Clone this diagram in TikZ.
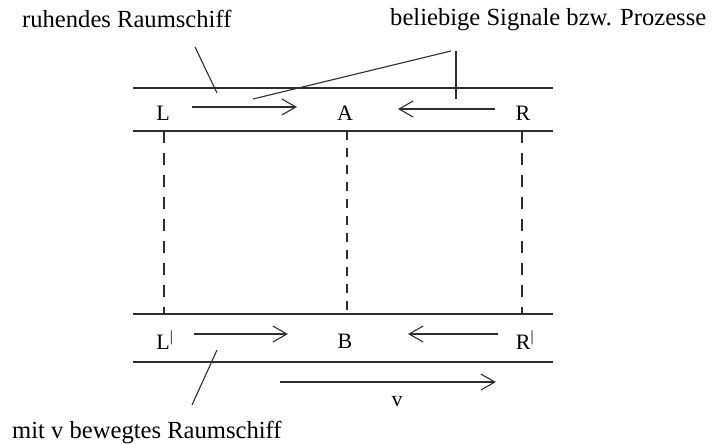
\documentclass[tikz,border=0pt]{standalone}
\usepackage{fontspec}
\setmainfont{Liberation Serif}
\usetikzlibrary{arrows.meta}
\definecolor{ink}{HTML}{2E2E2E}
\tikzset{
  rail/.style={draw=ink, line width=1.4pt},
  signal/.style={draw=ink, line width=1.2pt, -{Straight Barb[length=14pt,width=16pt,line width=1.1pt]}},
  pointer/.style={draw=ink, line width=1.1pt},
  sync/.style={draw=ink, line width=1.1pt, dash pattern=on 12pt off 10pt},
  syncmid/.style={draw=ink, line width=1.8pt, dash pattern=on 9pt off 8pt},
  lbl/.style={inner sep=0pt, font=\fontsize{22}{25}\selectfont, text=black},
  caption/.style={inner sep=0pt, font=\fontsize{24.6}{28}\selectfont, text=black, anchor=base west},
}
\begin{document}
\begin{tikzpicture}[x=1pt,y=-1pt]
\useasboundingbox (0,0) rectangle (718,444);

% rails of the two ships
\coordinate (t1w) at (133,88);  \coordinate (t1e) at (553,88);
\coordinate (t2w) at (133,131); \coordinate (t2e) at (553,131);
\coordinate (b1w) at (133,314); \coordinate (b1e) at (553,314);
\coordinate (b2w) at (133,362); \coordinate (b2e) at (553,362);
\draw[rail] (t1w) -- (t1e);
\draw[rail] (t2w) -- (t2e);
\draw[rail] (b1w) -- (b1e);
\draw[rail] (b2w) -- (b2e);

% point labels
\node[lbl] (L) at (163,113) {L};
\node[lbl] (A) at (345,113) {A};
\node[lbl] (R) at (523,113) {R};
\node[lbl] (Ls) at (165,340) {L\textsuperscript{|}};
\node[lbl] (B) at (345,341) {B};
\node[lbl] (Rs) at (525,340) {R\textsuperscript{|}};

% vertical synchronisation lines
\coordinate (sL1) at (164,131); \coordinate (sL2) at (164,314);
\coordinate (sA1) at (347,131); \coordinate (sA2) at (347,314);
\coordinate (sR1) at (522,131); \coordinate (sR2) at (522,314);
\draw[sync] (sL1) -- (sL2);
\draw[syncmid] (sA1) -- (sA2);
\draw[sync] (sR1) -- (sR2);

% signals in the resting ship
\coordinate (aL1) at (192,107); \coordinate (aL2) at (297,107);
\coordinate (aR1) at (495,109); \coordinate (aR2) at (398,109);
\draw[signal] (aL1) -- (aL2);
\draw[signal] (aR1) -- (aR2);

% signals in the moving ship
\coordinate (bL1) at (194,334); \coordinate (bL2) at (288,334);
\coordinate (bR1) at (498,334); \coordinate (bR2) at (408,334);
\draw[signal] (bL1) -- (bL2);
\draw[signal] (bR1) -- (bR2);

% velocity
\coordinate (v1) at (280,382); \coordinate (v2) at (496,382);
\draw[signal] (v1) -- (v2);
\node[lbl] (v) at (397,402) {v};

% captions
\node[caption] (rest) at (22,28) {ruhendes Raumschiff};
\node[caption] (sig) at (390,26) {beliebige Signale bzw. Prozesse};
\node[caption] (move) at (12,438) {mit v bewegtes Raumschiff};

% leader lines
\coordinate (p1a) at (195,47);  \coordinate (p1b) at (217,93);
\draw[pointer] (p1a) -- (p1b);
\coordinate (p2a) at (253,99);  \coordinate (p2b) at (451,51);
\coordinate (p2c) at (456,51);  \coordinate (p2d) at (456,99);
\draw[pointer] (p2a) -- (p2b);
\draw[pointer] (p2c) -- (p2d);
\coordinate (p3a) at (192,405); \coordinate (p3b) at (217,350);
\draw[pointer] (p3a) -- (p3b);
\end{tikzpicture}
\end{document}
